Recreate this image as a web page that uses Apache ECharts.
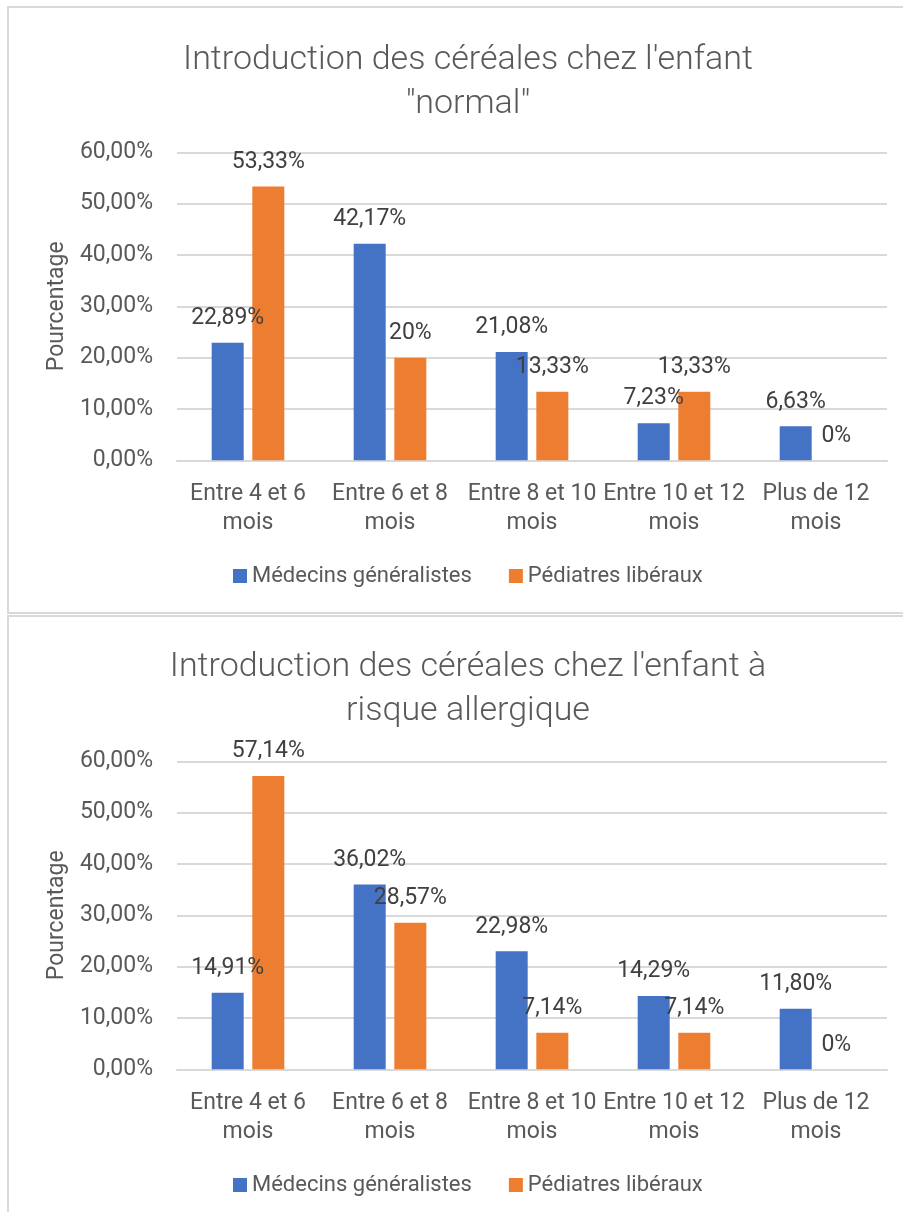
<!DOCTYPE html>
<html lang="fr">
<head>
  <meta charset="UTF-8">
  <title>Introduction des céréales</title>
  <script src="https://cdn.jsdelivr.net/npm/echarts@6/dist/echarts.min.js"></script>
  <style>
    html, body { margin: 0; padding: 0; background: #fff; overflow: hidden; }
  </style>
</head>
<body>
  <div id="main" style="width: 903px; height: 1212px;"></div>
  <script>
    // données
    var categories = ['Entre 4 et 6\nmois', 'Entre 6 et 8\nmois', 'Entre 8 et 10\nmois', 'Entre 10 et 12\nmois', 'Plus de 12\nmois'];
    var seriesNames = ['Médecins généralistes', 'Pédiatres libéraux'];
    var titles = ["Introduction des céréales chez l'enfant\n\"normal\"", "Introduction des céréales chez l'enfant à\nrisque allergique"];
    var normalMG = [22.89, 42.17, 21.08, 7.23, 6.63];
    var normalPed = [53.33, 20, 13.33, 13.33, 0];
    var allergieMG = [14.91, 36.02, 22.98, 14.29, 11.80];
    var allergiePed = [57.14, 28.57, 7.14, 7.14, 0];
    var yTicks = { min: 0, max: 60, interval: 10 };

    var FONT = "Roboto, sans-serif";
    var colors = ['#4472C4', '#ED7D31'];

    function pct(v) {
      return Number.isInteger(v) ? v + '%' : v.toFixed(2).replace('.', ',') + '%';
    }

    var chart = echarts.init(document.getElementById('main'));

    var panels = [
      { top: 7, titleTop: 33, data: [normalMG, normalPed] },
      { top: 616, titleTop: 640, data: [allergieMG, allergiePed] }
    ];

    var option = {
      color: colors,
      textStyle: { fontFamily: FONT },
      title: [], grid: [], xAxis: [], yAxis: [], legend: [], series: [],
      graphic: []
    };

    panels.forEach(function (p, i) {
      var off = p.top - 7;
      // cadre du graphique
      option.graphic.push({
        type: 'rect', silent: true, z: -1,
        shape: { x: 8, y: p.top, width: 1000, height: i === 0 ? 606 : 700 },
        style: { fill: 'none', stroke: '#d9d9d9', lineWidth: 2 }
      });
      option.title.push({
        text: titles[i], left: 463, top: p.titleTop, textAlign: 'center',
        textStyle: { fontFamily: FONT, fontSize: 34, fontWeight: 300, color: '#595959', lineHeight: 44 }
      });
      option.grid.push({ left: 177, right: 16, top: 152.3 + off, height: 308 });
      option.xAxis.push({
        type: 'category', gridIndex: i, data: categories,
        axisLine: { lineStyle: { color: '#d9d9d9', width: 2 } },
        axisTick: { show: false },
        axisLabel: { color: '#595959', fontSize: 23, lineHeight: 29, margin: 19, fontFamily: FONT, interval: 0 }
      });
      option.yAxis.push({
        type: 'value', gridIndex: i, min: yTicks.min, max: yTicks.max, interval: yTicks.interval,
        name: 'Pourcentage', nameLocation: 'middle', nameGap: 93, nameRotate: 90,
        nameTextStyle: { color: '#595959', fontSize: 23, fontFamily: FONT },
        axisLine: { show: false }, axisTick: { show: false },
        splitLine: { lineStyle: { color: '#d9d9d9', width: 2 } },
        axisLabel: {
          color: '#595959', fontSize: 23, margin: 24, fontFamily: FONT,
          formatter: function (v) { return v.toFixed(2).replace('.', ',') + '%'; }
        }
      });
      option.legend.push({
        data: seriesNames, left: 228, top: 560 + off,
        icon: 'rect', itemWidth: 14, itemHeight: 14, itemGap: 37,
        textStyle: { color: '#595959', fontSize: 22, fontFamily: FONT }
      });
      p.data.forEach(function (vals, s) {
        option.series.push({
          type: 'bar', name: seriesNames[s], xAxisIndex: i, yAxisIndex: i,
          data: vals, barWidth: 32, barGap: '27%',
          label: {
            show: true, position: 'top', distance: 13,
            color: '#404040', fontSize: 23, fontFamily: FONT,
            formatter: function (d) { return pct(d.value); }
          }
        });
      });
    });

    chart.setOption(option);
  </script>
</body>
</html>
